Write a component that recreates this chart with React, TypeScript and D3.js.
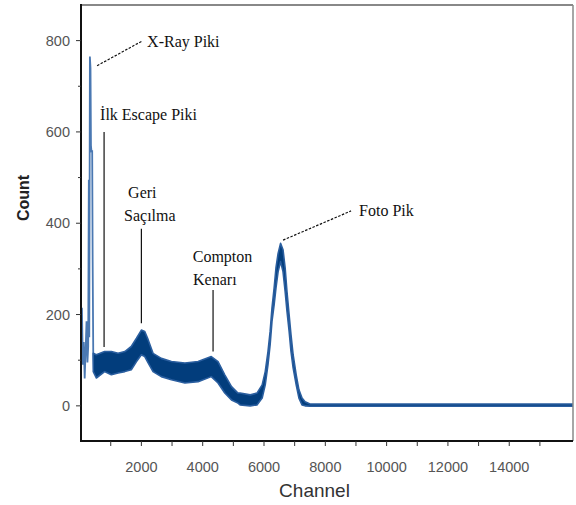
import { area, line, scaleLinear } from 'd3'

const width = 576
const height = 505
const margin = { top: 5, right: 3, bottom: 64, left: 81 }

// noisy spectrum, drawn as an envelope (lower / upper count per channel)
const bandChannel = [430, 530, 800, 1020, 1240, 1460, 1670, 1840, 2000, 2110, 2220, 2380, 2650, 2980, 3420, 3850, 4280, 4500, 4720, 4940, 5150, 5220, 5550, 5770, 5940, 6040, 6130, 6200, 6260, 6330, 6390, 6460, 6540, 6620, 6690, 6750, 6820, 6880, 6950, 7050, 7140, 7240, 7340, 7500, 16080]
const bandUpper = [115, 112, 119, 119, 115, 119, 130, 148, 166, 163, 145, 115, 104, 97, 94, 97, 108, 97, 68, 42, 28, 28, 24, 28, 46, 75, 119, 163, 214, 258, 302, 334, 356, 342, 302, 250, 199, 156, 112, 68, 35, 17, 9, 4, 4]
const bandLower = [75, 61, 75, 68, 72, 75, 79, 97, 112, 108, 94, 75, 64, 57, 50, 53, 64, 50, 28, 13, 6, 2, 0, 2, 17, 46, 90, 134, 185, 221, 258, 294, 316, 294, 250, 207, 163, 119, 83, 46, 17, 2, 0, -1, -1]

// low channel region with the X-ray spike
const spikeChannel = [0, 30, 60, 90, 120, 150, 180, 210, 240, 265, 285, 300, 320, 340, 355, 375, 395, 410, 430, 450]
const spikeCount = [0, 120, 215, 90, 140, 60, 120, 185, 95, 130, 495, 150, 765, 740, 570, 555, 560, 320, 110, 80]

const xMajor = [2000, 4000, 6000, 8000, 10000, 12000, 14000]
const xMinor = [1000, 3000, 5000, 7000, 9000, 11000, 13000, 15000]
const yMajor = [0, 200, 400, 600, 800]
const yMinor = [100, 300, 500, 700]

// annotations, anchored in data units
const labels = [
  { text: 'X-Ray Piki', ch: 2186, count: 786 },
  { text: 'İlk Escape Piki', ch: 652, count: 626 },
  { text: 'Geri', ch: 1566, count: 455 },
  { text: 'Saçılma', ch: 1435, count: 405 },
  { text: 'Compton', ch: 3676, count: 316 },
  { text: 'Kenarı', ch: 3686, count: 265 },
  { text: 'Foto Pik', ch: 9101, count: 415 },
]
const pointers = [
  { x1: 555, y1: 745, x2: 2023, y2: 799, dashed: true },
  { x1: 783, y1: 600, x2: 783, y2: 129, dashed: false },
  { x1: 2000, y1: 388, x2: 2000, y2: 181, dashed: false },
  { x1: 4338, y1: 254, x2: 4338, y2: 119, dashed: false },
  { x1: 6622, y1: 363, x2: 8840, y2: 427, dashed: true },
]

function App() {
  const x0 = margin.left
  const x1 = width - margin.right
  const y0 = margin.top
  const y1 = height - margin.bottom

  const xScale = scaleLinear().domain([30, 16080]).range([x0, x1])
  const yScale = scaleLinear().domain([-77, 878]).range([y1, y0])

  const band = bandChannel.map((c, i) => ({ c, lo: bandLower[i], hi: bandUpper[i] }))
  const bandPath = area<{ c: number; lo: number; hi: number }>()
    .x((d) => xScale(d.c))
    .y0((d) => yScale(d.lo))
    .y1((d) => yScale(d.hi))(band)

  const spike = spikeChannel.map((c, i) => [c, spikeCount[i]] as [number, number])
  const spikePath = line<[number, number]>()
    .x((d) => xScale(d[0]))
    .y((d) => yScale(d[1]))(spike)

  const tickFont = { fontFamily: 'Liberation Sans, Arial, sans-serif', fontSize: 14.5, fill: '#555' }
  const noteFont = { fontFamily: 'Liberation Serif, Times New Roman, serif', fontSize: 16, fill: '#111' }

  return (
    <svg width={width} height={height} style={{ position: 'absolute', left: 0, top: 0, background: '#fff' }}>
      <defs>
        <clipPath id="plot">
          <rect x={x0} y={y0} width={x1 - x0} height={y1 - y0} />
        </clipPath>
      </defs>

      <g clipPath="url(#plot)">
        <path d={spikePath ?? ''} fill="none" stroke="#4a78b2" strokeWidth={1.8} />
        <path d={bandPath ?? ''} fill="#023d7c" stroke="#2a5e9f" strokeWidth={1.6} strokeLinejoin="round" />
      </g>

      {/* frame */}
      <line x1={x0} x2={x1} y1={y0} y2={y0} stroke="#888" strokeWidth={2} />
      <line x1={x1} x2={x1} y1={y0} y2={y1} stroke="#888" strokeWidth={1.5} />
      <line x1={x0} x2={x0} y1={y0 - 1} y2={y1 + 1} stroke="#111" strokeWidth={2} />
      <line x1={x0 - 1} x2={x1} y1={y1} y2={y1} stroke="#111" strokeWidth={2} />

      {yMajor.map((v) => (
        <g key={v} transform={`translate(${x0},${yScale(v)})`}>
          <line x1={-5} x2={0} stroke="#333" />
          <text x={-11} dy="0.35em" textAnchor="end" style={tickFont}>
            {v}
          </text>
        </g>
      ))}
      {yMinor.map((v) => (
        <line key={v} x1={x0 - 3} x2={x0} y1={yScale(v)} y2={yScale(v)} stroke="#333" />
      ))}
      {xMajor.map((v) => (
        <g key={v} transform={`translate(${xScale(v)},${y1})`}>
          <line y1={0} y2={5} stroke="#333" />
          <text y={31} textAnchor="middle" style={tickFont}>
            {v}
          </text>
        </g>
      ))}
      {xMinor.map((v) => (
        <line key={v} x1={xScale(v)} x2={xScale(v)} y1={y1} y2={y1 + 5} stroke="#333" />
      ))}

      <text
        transform={`translate(29,198) rotate(-90)`}
        textAnchor="middle"
        style={{ fontFamily: 'Liberation Sans, Arial, sans-serif', fontSize: 16, fontWeight: 'bold', fill: '#222' }}
      >
        Count
      </text>
      <text
        x={314.5}
        y={497}
        textAnchor="middle"
        style={{ fontFamily: 'Liberation Sans, Arial, sans-serif', fontSize: 19, fill: '#333' }}
      >
        Channel
      </text>

      {pointers.map((p, i) => (
        <line
          key={i}
          x1={xScale(p.x1)}
          y1={yScale(p.y1)}
          x2={xScale(p.x2)}
          y2={yScale(p.y2)}
          stroke="#111"
          strokeWidth={1.2}
          strokeDasharray={p.dashed ? '2.5,1.5' : undefined}
        />
      ))}
      {labels.map((l) => (
        <text key={l.text} x={xScale(l.ch)} y={yScale(l.count)} style={noteFont}>
          {l.text}
        </text>
      ))}
    </svg>
  )
}

export default App
